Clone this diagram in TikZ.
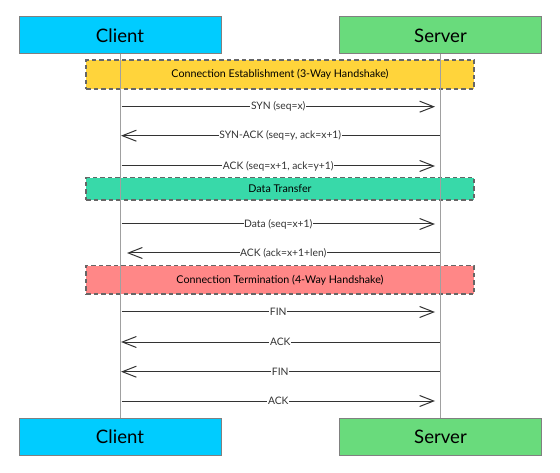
\documentclass[tikz,border=0pt]{standalone}
\usepackage{fontspec}
\setmainfont{Lato}
\usetikzlibrary{arrows.meta}
\definecolor{clientc}{HTML}{00CCFF}
\definecolor{serverc}{HTML}{69DB7C}
\definecolor{bandy}{HTML}{FFD43B}
\definecolor{bandg}{HTML}{38D9A9}
\definecolor{bandr}{HTML}{FF8787}
\definecolor{boxedge}{HTML}{808080}
\definecolor{dashedge}{HTML}{666666}
\definecolor{life}{HTML}{A0A0A0}
\definecolor{msg}{HTML}{333333}
\begin{document}
\begin{tikzpicture}[x=1pt,y=-1pt,
  actor/.style={draw=boxedge, line width=1pt, minimum width=202pt, minimum height=37pt, inner sep=0pt, font=\fontsize{18.6}{20}\selectfont},
  band/.style={draw=dashedge, line width=1.5pt, dash pattern=on 4.5pt off 3pt, minimum width=388pt, inner sep=0pt, text=black, font=\fontsize{10.7}{12}\selectfont},
  lifeline/.style={draw=life, line width=1pt},
  msgline/.style={draw=msg, line width=1pt, -{Straight Barb[length=14pt,width=11pt]}},
  lbl/.style={fill=white, inner sep=0.6pt, text=msg, font=\fontsize{10.3}{11}\selectfont}]
\useasboundingbox (0,0) rectangle (560,473);
% actors
\node[actor, fill=clientc] (ct) at (120,35.5) {Client};
\node[actor, fill=serverc] (st) at (440.5,35.5) {Server};
\node[actor, fill=clientc] (cb) at (120,437) {Client};
\node[actor, fill=serverc] (sb) at (440.5,437) {Server};
% bands
\node[band, fill=bandy, minimum height=29pt] (b1) at (280,74.5) {Connection Establishment (3-Way Handshake)};
\node[band, fill=bandg, minimum height=22.5pt] (b2) at (280,189) {Data Transfer};
\node[band, fill=bandr, minimum height=28.5pt] (b3) at (280,280) {Connection Termination (4-Way Handshake)};
% lifelines
\draw[lifeline] (ct.south) -- (cb.north);
\draw[lifeline] (st.south) -- (sb.north);
% message end points
\coordinate (c1) at (121.5,106.7); \coordinate (s1) at (435,106.7);
\coordinate (c2) at (121,135.7);   \coordinate (s2) at (439.5,135.7);
\coordinate (c3) at (121.5,166);   \coordinate (s3) at (435,166);
\coordinate (c4) at (121.5,224);   \coordinate (s4) at (435,224);
\coordinate (c5) at (127,253);     \coordinate (s5) at (439.5,253);
\coordinate (c6) at (121.5,312);   \coordinate (s6) at (435,312);
\coordinate (c7) at (121,342);     \coordinate (s7) at (439.5,342);
\coordinate (c8) at (121,371.7);   \coordinate (s8) at (439.5,371.7);
\coordinate (c9) at (121.5,401);   \coordinate (s9) at (435,401);
% messages
\draw[msgline] (c1) -- node[lbl] {SYN (seq=x)} (s1);
\draw[msgline] (s2) -- node[lbl] {SYN-ACK (seq=y, ack=x+1)} (c2);
\draw[msgline] (c3) -- node[lbl] {ACK (seq=x+1, ack=y+1)} (s3);
\draw[msgline] (c4) -- node[lbl] {Data (seq=x+1)} (s4);
\draw[msgline] (s5) -- node[lbl] {ACK (ack=x+1+len)} (c5);
\draw[msgline] (c6) -- node[lbl] {FIN} (s6);
\draw[msgline] (s7) -- node[lbl] {ACK} (c7);
\draw[msgline] (s8) -- node[lbl] {FIN} (c8);
\draw[msgline] (c9) -- node[lbl] {ACK} (s9);
\end{tikzpicture}
\end{document}
